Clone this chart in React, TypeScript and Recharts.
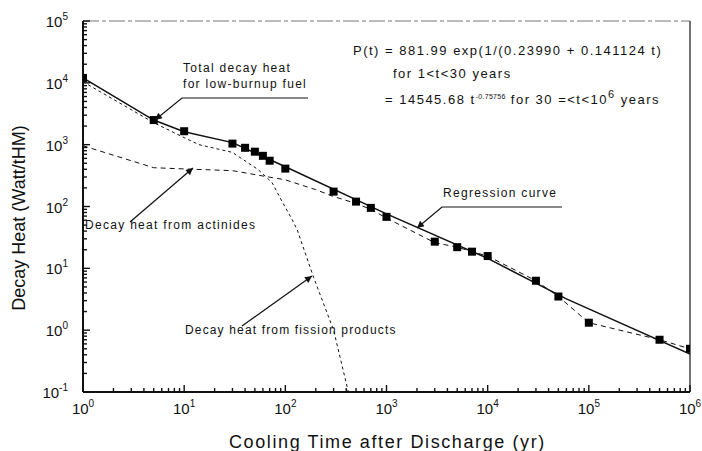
import React from "react";
import {
  ComposedChart, Line, Scatter, XAxis, YAxis, ReferenceLine,
} from "recharts";

// total decay heat, data points (squares)
const totalT = [1, 5, 10, 30, 40, 50, 60, 70, 100, 300, 500, 700, 1000, 3000, 5000, 7000, 10000, 30000, 50000, 100000, 500000, 1000000];
const totalHeat = [12000, 2500, 1650, 1040, 890, 770, 660, 550, 410, 174, 120, 95, 68, 27, 22, 18.6, 15.8, 6.3, 3.5, 1.32, 0.7, 0.5];

// regression curve (solid)
const regT = [1, 5, 10, 30, 100, 1000, 10000, 60000, 1000000];
const regHeat = [12000, 2500, 1620, 1080, 440, 76, 14.5, 3.2, 0.41];

// fission products (dashed)
const fissT = [1, 5, 10, 14, 30, 54, 74, 93, 117, 131, 190, 300, 420];
const fissHeat = [10400, 2270, 1300, 1000, 750, 394, 243, 120, 61, 42, 7.2, 1.0, 0.1];

// actinides (dashed)
const actT = [1, 5, 10, 30, 66, 100, 200, 300, 500, 700, 1000, 3000, 5000, 7000, 10000, 30000, 50000, 100000, 500000, 1000000];
const actHeat = [960, 424, 405, 380, 303, 270, 187, 145, 112, 90, 65, 26, 22, 18.6, 15.8, 6.3, 3.5, 1.32, 0.7, 0.5];

const xMajor = [1, 10, 100, 1000, 10000, 100000, 1000000];
const yMajor = [0.1, 1, 10, 100, 1000, 10000, 100000];
const minorMult = [2, 3, 4, 5, 6, 7, 8, 9];

const xTicks = [...xMajor, ...xMajor.slice(0, -1).flatMap((d) => minorMult.map((m) => d * m))];
const yTicks = [...yMajor, ...yMajor.slice(0, -1).flatMap((d) => minorMult.map((m) => d * m))];

const toData = (ts: number[], vs: number[]) => ts.map((t, i) => ({ t, v: vs[i] }));

const FONT = "'Liberation Sans', Arial, sans-serif";
const INK = "#111";

const isMajor = (v: number) => Math.abs(Math.log10(v) - Math.round(Math.log10(v))) < 1e-6;

const XTick = (props: any) => {
  const { x, y, payload } = props;
  const v = payload.value;
  const major = isMajor(v);
  const e = Math.round(Math.log10(v));
  return (
    <g>
      <line x1={x} y1={y} x2={x} y2={y - (major ? 7 : 4)} stroke={INK} strokeWidth={1.4} />
      {major && (
        <text x={x} y={y + 22} textAnchor="middle" fontFamily={FONT} fontSize={15} fill={INK}>
          10<tspan dy={-7} fontSize={10}>{e}</tspan>
        </text>
      )}
    </g>
  );
};

const YTick = (props: any) => {
  const { x, y, payload } = props;
  const v = payload.value;
  const major = isMajor(v);
  const e = Math.round(Math.log10(v));
  return (
    <g>
      <line x1={x} y1={y} x2={x + (major ? 7 : 4)} y2={y} stroke={INK} strokeWidth={1.4} />
      {major && (
        <text x={x - 15} y={y + 6} textAnchor="end" fontFamily={FONT} fontSize={15} fill={INK}>
          10<tspan dy={-7} fontSize={10}>{e}</tspan>
        </text>
      )}
    </g>
  );
};

const Square = (props: any) => {
  const { cx, cy } = props;
  return <rect x={cx - 4} y={cy - 4} width={8} height={8} fill="#000" />;
};

export default function App() {
  const txt = { fontFamily: FONT, fill: INK } as const;
  return (
    <div style={{ position: "absolute", left: 0, top: 0, width: 702, height: 451, background: "#fff" }}>
      <ComposedChart width={702} height={451} margin={{ top: 21, right: 12, bottom: 0, left: 0 }}>
        <XAxis
          dataKey="t" type="number" scale="log" domain={[1, 1000000]} allowDataOverflow
          ticks={xTicks} interval={0} tick={<XTick />} tickSize={0} tickMargin={0} tickLine={false}
          axisLine={{ stroke: INK, strokeWidth: 2 }} height={59}
        />
        <YAxis
          type="number" scale="log" domain={[0.1, 100000]} allowDataOverflow
          ticks={yTicks} interval={0} tick={<YTick />} tickSize={0} tickMargin={0} tickLine={false}
          axisLine={{ stroke: INK, strokeWidth: 2 }} width={83}
        />
        <ReferenceLine y={100000} stroke="#777" strokeWidth={1} strokeDasharray="16 3 4 3" />
        <ReferenceLine x={1000000} stroke="#444" strokeWidth={1.5} />
        <Line data={toData(fissT, fissHeat)} dataKey="v" type="linear" dot={false} stroke={INK} strokeWidth={1} strokeDasharray="3 3" isAnimationActive={false} />
        <Line data={toData(actT, actHeat)} dataKey="v" type="linear" dot={false} stroke={INK} strokeWidth={1} strokeDasharray="5 4" isAnimationActive={false} />
        <Line data={toData(regT, regHeat)} dataKey="v" type="linear" dot={false} stroke={INK} strokeWidth={1.5} isAnimationActive={false} />
        <Scatter data={toData(totalT, totalHeat)} dataKey="v" shape={<Square />} isAnimationActive={false} />
      </ComposedChart>

      <svg width={702} height={451} style={{ position: "absolute", left: 0, top: 0, pointerEvents: "none" }}>
        <defs>
          <marker id="ah" viewBox="0 0 10 10" refX="10" refY="5" markerWidth="11" markerHeight="7" markerUnits="userSpaceOnUse" orient="auto">
            <path d="M0,0 L10,5 L0,10 z" fill={INK} />
          </marker>
        </defs>

        <text transform="rotate(-90)" x={-218} y={25} textAnchor="middle" fontSize={18} {...txt}>
          Decay Heat (Watt/tHM)
        </text>
        <text x={229} y={448} fontSize={18} letterSpacing={1.6} {...txt}>
          Cooling Time after Discharge (yr)
        </text>

        {/* equation */}
        <g fontSize={13} letterSpacing={1.5} {...txt}>
          <text x={353} y={55}>P(t) = 881.99 exp(1/(0.23990 + 0.141124 t)</text>
          <text x={393} y={78}>for 1&lt;t&lt;30 years</text>
          <text x={385} y={104}>
            = 14545.68 t<tspan dy={-5} fontSize={7} letterSpacing={0.3}>-0.75756</tspan>
            <tspan dy={5}> for 30 =&lt;t&lt;10</tspan>
            <tspan dy={-6} fontSize={11}>6</tspan>
            <tspan dy={6}> years</tspan>
          </text>
        </g>

        {/* annotations */}
        <g fontSize={12} letterSpacing={1.3} {...txt}>
          <text x={183} y={72}>Total decay heat</text>
          <text x={183} y={88}>for low-burnup fuel</text>
          <text x={443} y={197}>Regression curve</text>
          <text x={85} y={229}>Decay heat from actinides</text>
          <text x={185} y={334} letterSpacing={1.15}>Decay heat from fission products</text>
        </g>

        <g stroke={INK} strokeWidth={1.2} fill="none">
          <polyline points="308,98 182,98 155,120" markerEnd="url(#ah)" />
          <polyline points="562,207 442,207 417,228" markerEnd="url(#ah)" />
          <line x1={130} y1={222} x2={193} y2={168} markerEnd="url(#ah)" />
          <line x1={242} y1={326} x2={312} y2={276} markerEnd="url(#ah)" />
        </g>
      </svg>
    </div>
  );
}
